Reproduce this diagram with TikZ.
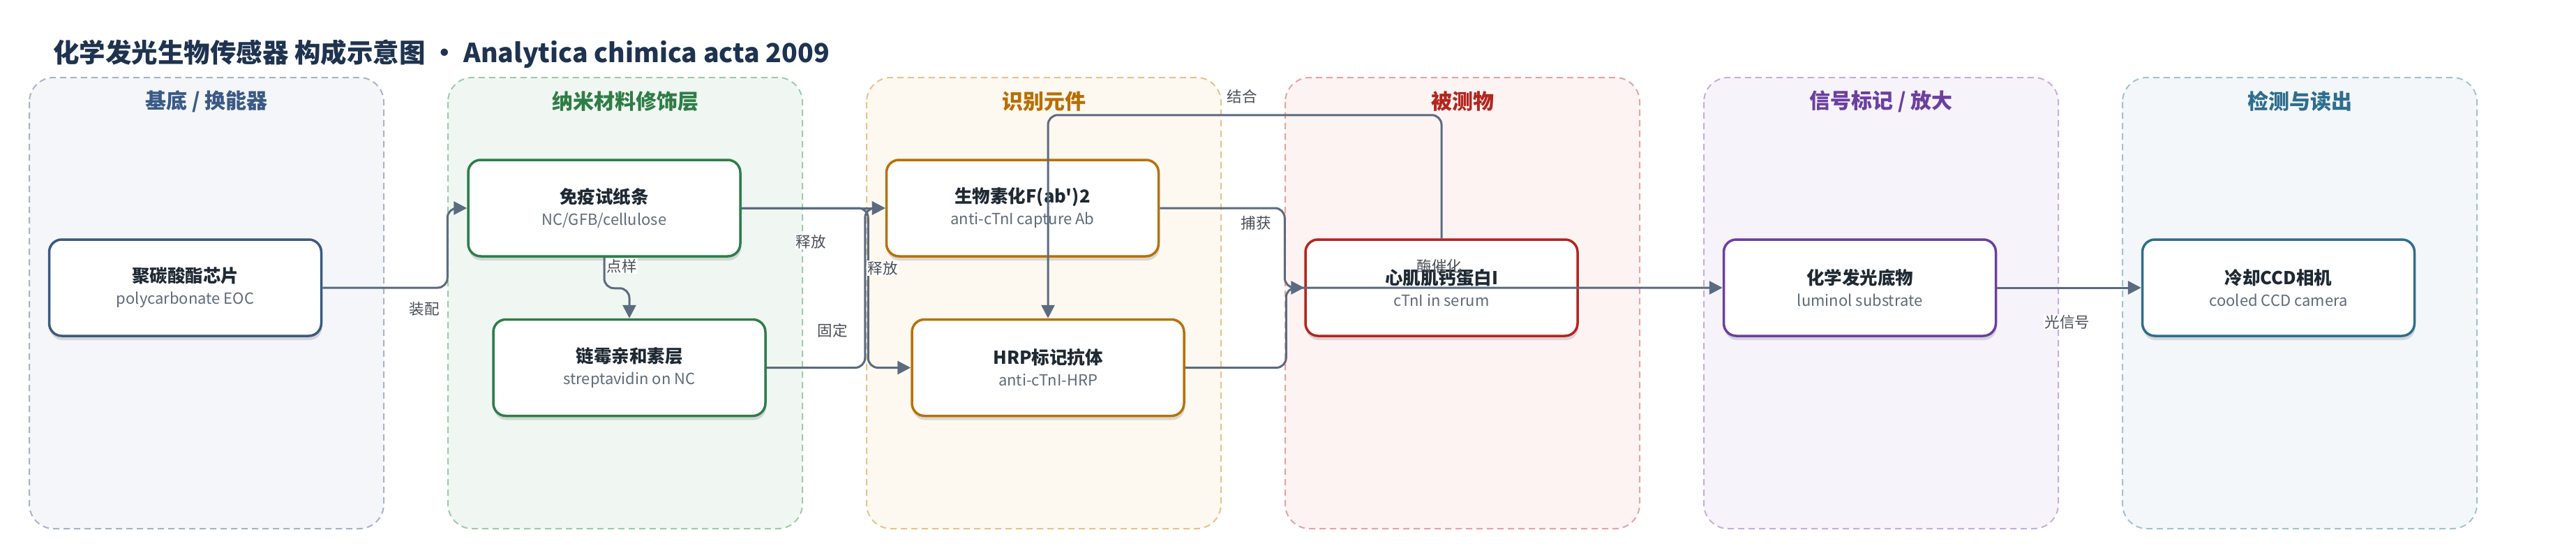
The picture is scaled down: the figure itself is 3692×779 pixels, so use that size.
\documentclass[tikz,border=0pt]{standalone}
\usepackage{fontspec}
\setmainfont{Noto Sans CJK SC}[Ligatures=TeXOff]
\usetikzlibrary{arrows.meta,shadows,calc}
\definecolor{edgec}{HTML}{5B6B80}
\definecolor{labc}{HTML}{4A4F57}
\definecolor{subc}{HTML}{5F6B7A}
\definecolor{mainc}{HTML}{1F2933}
\definecolor{titlec}{HTML}{1E3350}
\definecolor{cAf}{HTML}{F4F6FA}\definecolor{cAb}{HTML}{A7B4C6}\definecolor{cAt}{HTML}{3A5A86}\definecolor{cAn}{HTML}{3B5A7E}
\definecolor{cBf}{HTML}{F0F7F2}\definecolor{cBb}{HTML}{9FCBA9}\definecolor{cBt}{HTML}{2E7D46}\definecolor{cBn}{HTML}{2E7D4A}
\definecolor{cCf}{HTML}{FDF8F0}\definecolor{cCb}{HTML}{E6C38C}\definecolor{cCt}{HTML}{B86E00}\definecolor{cCn}{HTML}{B5720A}
\definecolor{cDf}{HTML}{FDF3F3}\definecolor{cDb}{HTML}{E7A3A3}\definecolor{cDt}{HTML}{B3261E}\definecolor{cDn}{HTML}{B3261E}
\definecolor{cEf}{HTML}{F7F3FB}\definecolor{cEb}{HTML}{C6AEDD}\definecolor{cEt}{HTML}{6B3FA0}\definecolor{cEn}{HTML}{6B3FA0}
\definecolor{cFf}{HTML}{F3F7F9}\definecolor{cFb}{HTML}{A3C2CF}\definecolor{cFt}{HTML}{2E6E8E}\definecolor{cFn}{HTML}{2E6E8E}
\newcommand{\nodetxt}[2]{{\fontsize{25.5}{30}\selectfont\bfseries\color{mainc}#1}\\{\fontsize{22}{31}\selectfont\color{subc}#2}}
\tikzset{
  cluster/.style={rounded corners=35pt, dash pattern=on 9pt off 6pt, line width=2pt},
  ctitle/.style={font=\fontsize{30}{34}\selectfont\bfseries, inner sep=0pt},
  box/.style={rounded corners=18pt, fill=white, line width=3.5pt, minimum width=390pt, minimum height=138pt,
    align=center, inner sep=0pt, font=\fontsize{22}{31}\selectfont,
    drop shadow={shadow xshift=1pt, shadow yshift=-6pt, opacity=0.13, fill=black}},
  edge/.style={draw=edgec, line width=3pt, rounded corners=14pt, -{Triangle[length=19pt,width=19pt]}},
  elab/.style={font=\fontsize{21.5}{24}\selectfont, text=labc, inner sep=1.5pt},
  wlab/.style={elab, fill=white},
}
\begin{document}
\begin{tikzpicture}[x=1pt,y=-1pt]
\useasboundingbox (0,0) rectangle (3692,779);
\fill[white] (0,0) rectangle (3692,779);
\node[anchor=west, font=\fontsize{37.5}{44}\selectfont\bfseries, text=titlec, inner sep=0pt] (title) at (76,77) {化学发光生物传感器 构成示意图 · Analytica chimica acta 2009};
% clusters
\draw[cluster, draw=cAb, fill=cAf] (42,111) rectangle (550,757);
\draw[cluster, draw=cBb, fill=cBf] (642,111) rectangle (1150,757);
\draw[cluster, draw=cCb, fill=cCf] (1242,111) rectangle (1750,757);
\draw[cluster, draw=cDb, fill=cDf] (1842,111) rectangle (2350,757);
\draw[cluster, draw=cEb, fill=cEf] (2442,111) rectangle (2950,757);
\draw[cluster, draw=cFb, fill=cFf] (3042,111) rectangle (3550,757);
\node[ctitle, text=cAt] (t1) at (296,145) {基底 / 换能器};
\node[ctitle, text=cBt] (t2) at (896,145) {纳米材料修饰层};
\node[ctitle, text=cCt] (t3) at (1496,145) {识别元件};
\node[ctitle, text=cDt] (t4) at (2096,145) {被测物};
\node[ctitle, text=cEt] (t5) at (2696,145) {信号标记 / 放大};
\node[ctitle, text=cFt] (t6) at (3296,145) {检测与读出};
% nodes
\node[box, draw=cAn] (n1) at (265.5,412) {\nodetxt{聚碳酸酯芯片}{polycarbonate EOC}};
\node[box, draw=cBn] (n2) at (866,298) {\nodetxt{免疫试纸条}{NC/GFB/cellulose}};
\node[box, draw=cBn] (n3) at (902,526.5) {\nodetxt{链霉亲和素层}{streptavidin on NC}};
\node[box, draw=cCn] (n4) at (1465.5,298) {\nodetxt{生物素化F(ab')2}{anti-cTnI capture Ab}};
\node[box, draw=cCn] (n5) at (1502,526.5) {\nodetxt{HRP标记抗体}{anti-cTnI-HRP}};
\node[box, draw=cDn] (n6) at (2066,412) {\nodetxt{心肌肌钙蛋白I}{cTnI in serum}};
\node[box, draw=cEn] (n7) at (2665.5,412) {\nodetxt{化学发光底物}{luminol substrate}};
\node[box, draw=cFn] (n8) at (3265.5,412) {\nodetxt{冷却CCD相机}{cooled CCD camera}};
% edges
\draw[edge] (n1.east) -| ([xshift=-28pt]n2.west) -- (n2.west);
\draw[edge] (n2.south) -- ++(0,44) -| (n3.north);
\draw[edge] (n2.east) -- (n4.west);
\draw[edge] (n2.east) -| ([xshift=-61pt]n5.west) -- (n5.west);
\draw[edge] (n3.east) -| ([xshift=-29pt]n4.west) -- (n4.west);
\draw[edge] (n6.north) -- ++(0,-176.5) -| (n5.north);
\draw[edge] (n4.east) -| ([xshift=-28pt]n6.west) -- (n6.west);
\draw[edge] (n5.east) -| ([xshift=-26pt]n6.west) -- (n7.west);
\draw[edge] (n7.east) -- (n8.west);
% labels
\node[wlab] (l1) at (608,442) {装配};
\node[wlab] (l2) at (891,381) {点样};
\node[wlab] (l3) at (1162,346) {释放};
\node[wlab] (l4) at (1265,384) {释放};
\node[wlab] (l5) at (1193,473) {固定};
\node[wlab] (l6) at (1780,138) {结合};
\node[wlab] (l7) at (1800,319) {捕获};
\node[elab] (l8) at (2063,381) {酶催化};
\node[wlab] (l9) at (2963,461) {光信号};
\end{tikzpicture}
\end{document}
